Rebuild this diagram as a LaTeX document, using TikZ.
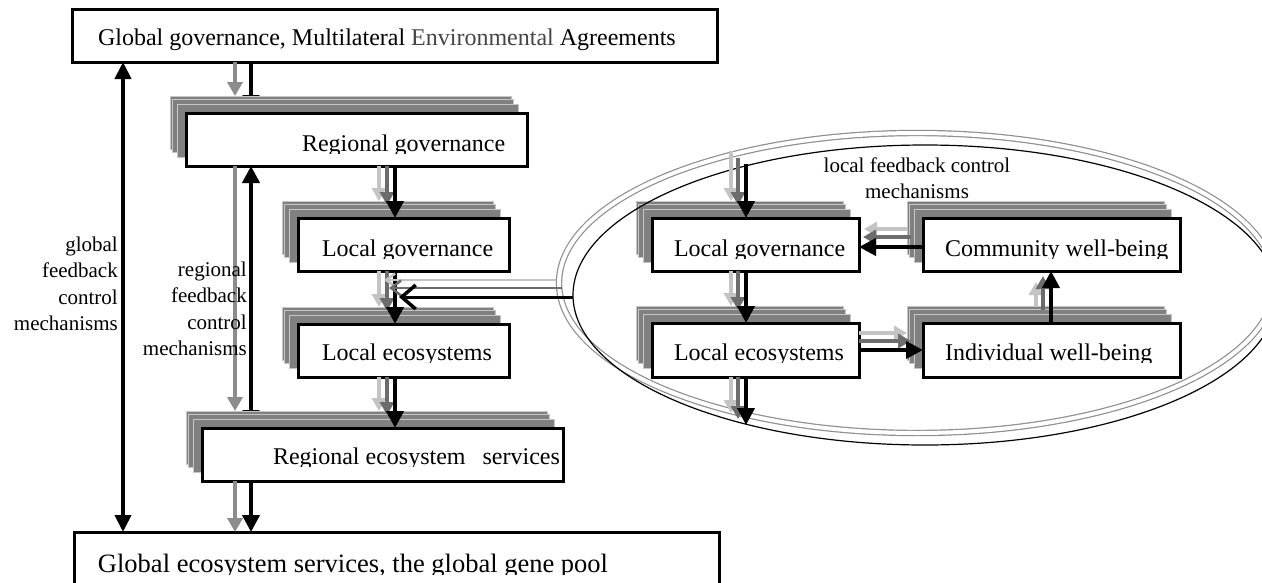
\documentclass[tikz,border=0pt]{standalone}
\usepackage{fontspec}
\setmainfont{Liberation Serif}
\usetikzlibrary{arrows.meta,calc,shapes.geometric}
\pgfdeclarelayer{back}
\pgfdeclarelayer{shad}
\pgfsetlayers{back,shad,main}
\definecolor{lgc}{HTML}{C4C4C4}
\definecolor{mgc}{HTML}{6C6C6C}
\definecolor{rgc}{HTML}{8C8C8C}
\definecolor{shfill}{HTML}{808080}
\definecolor{shedge}{HTML}{C6C6C6}
\definecolor{ellg}{HTML}{8E8E8E}
\definecolor{txtg}{HTML}{454545}
\newcommand{\boxfont}{\fontsize{24}{28}\selectfont}
\newcommand{\botfont}{\fontsize{26.5}{30}\selectfont}
\newcommand{\lblfont}{\fontsize{21}{26.5}\selectfont}
\newcommand{\shadowstack}[1]{%
  \begin{pgfonlayer}{shad}
    \foreach \dx/\dy in {16/17,14/14,9/9}{
      \draw[shadowlayer] ($(#1.north west)+(-\dx,-\dy)$) rectangle ($(#1.south east)+(-\dx,-\dy)$);
    }
  \end{pgfonlayer}
  \coordinate (#1-s) at ($(#1.north west)+(-16,-17)$);
  \coordinate (#1-m) at ($(#1.north west)+(-12,-13)$);
}
\newcommand{\clipdesc}[1]{%
  \fill[white] ($(#1.base -| #1.west)+(3,2.5)$) rectangle ($(#1.south east)+(-3,-3)$);
}
\begin{document}
\begin{tikzpicture}[x=1pt,y=-1pt,
  mainbox/.style={draw=black, line width=3pt, fill=white, inner sep=0pt, outer sep=0pt, anchor=north west, font=\boxfont},
  shadowlayer/.style={draw=shedge, line width=0.8pt, fill=shfill},
  blkar/.style={draw=black, line width=4pt, -{Triangle[length=17pt,width=17pt]}},
  blkhid/.style={draw=black, line width=4pt, -{Triangle[length=18pt,width=16pt]}},
  rgar/.style={draw=rgc, line width=3.5pt, -{Triangle[length=14pt,width=15pt]}},
  lgar/.style={draw=lgc, line width=3.5pt, -{Triangle[length=13pt,width=14pt]}},
  mgar/.style={draw=mgc, line width=3.5pt, -{Triangle[length=13pt,width=14pt]}},
  bkfeed/.style={draw=black, line width=3pt, -{Straight Barb[length=14pt,width=24pt,line width=3.5pt]}},
  mgfeed/.style={draw=mgc, line width=2.5pt, -{Straight Barb[length=10pt,width=15pt,line width=2.5pt]}},
  lgfeed/.style={draw=lgc, line width=2.5pt, -{Straight Barb[length=9pt,width=13pt,line width=2.5pt]}},
  lbl/.style={inner sep=0pt, font=\lblfont}
]
\begin{pgfonlayer}{back}
  \fill[white] (0,0) rectangle (1262,582);
\end{pgfonlayer}
\useasboundingbox (0,0) rectangle (1262,582);

% ellipses of the local cluster
\node[draw=ellg, double=white, double distance=4pt, line width=1.2pt, ellipse,
      minimum width=716pt, minimum height=300pt, inner sep=0pt, outer sep=0pt] (gell) at (917,283) {};
\node[draw=black, line width=1.2pt, ellipse,
      minimum width=704pt, minimum height=300pt, inner sep=0pt, outer sep=0pt] (ell) at (925,295) {};

% boxes
\node[mainbox, text height=36pt, text depth=17pt] (top) at (72,9)
  {\makebox[645pt][l]{\hspace*{26pt}Global governance, Multilateral {\color{txtg}Environmental} Agreements}};
\node[mainbox, text height=38pt, text depth=15pt] (rgov) at (186,113)
  {\makebox[341pt][l]{\hspace*{116pt}Regional governance}};
\node[mainbox, text height=38pt, text depth=15pt] (lgL) at (298,218)
  {\makebox[211pt][l]{\hspace*{24pt}Local governance}};
\node[mainbox, text height=36pt, text depth=17pt] (leL) at (298,324)
  {\makebox[211pt][l]{\hspace*{24pt}Local ecosystems}};
\node[mainbox, text height=36pt, text depth=17pt] (rges) at (202,428)
  {\makebox[361pt][l]{\hspace*{71pt}Regional ecosystem\hspace{11pt} services}};
\node[mainbox, text height=40pt, text depth=48pt, font=\botfont] (bot) at (74,532)
  {\makebox[645pt][l]{\hspace*{24pt}Global ecosystem services, the global gene pool}};
\node[mainbox, text height=38pt, text depth=15pt] (lgR) at (652,218)
  {\makebox[207pt][l]{\hspace*{22pt}Local governance}};
\node[mainbox, text height=38pt, text depth=15pt] (cw) at (923,218)
  {\makebox[257pt][l]{\hspace*{22pt}Community well-being}};
\node[mainbox, text height=37pt, text depth=17pt] (leR) at (652,323)
  {\makebox[207pt][l]{\hspace*{22pt}Local ecosystems}};
\node[mainbox, text height=37pt, text depth=17pt] (iw) at (923,323)
  {\makebox[257pt][l]{\hspace*{22pt}Individual well-being}};

% shadows
\shadowstack{rgov}
\shadowstack{lgL}
\shadowstack{leL}
\shadowstack{rges}
\shadowstack{lgR}
\shadowstack{cw}
\shadowstack{leR}
\shadowstack{iw}

% clipped descenders
\clipdesc{rgov}
\clipdesc{lgL}
\clipdesc{leL}
\clipdesc{rges}
\clipdesc{bot}
\clipdesc{lgR}
\clipdesc{cw}
\clipdesc{leR}
\clipdesc{iw}

% column coordinates
\coordinate (xg) at (123,0);
\coordinate (xrg) at (235,0);
\coordinate (xrb) at (251,0);
\coordinate (xl1) at (379,0);
\coordinate (xl2) at (387,0);
\coordinate (xl3) at (395,0);
\coordinate (xcl) at (384,0);
\coordinate (xcm) at (389,0);
\coordinate (xcb) at (399,0);
\coordinate (yh1) at (0,280);
\coordinate (yh2) at (0,288);
\coordinate (yh3) at (0,297);
\coordinate (geo) at ($(gell.west)+(-2.6,0)$);
\coordinate (gei) at ($(gell.west)+(2.6,0)$);
\coordinate (xr1) at (731,0);
\coordinate (xr2) at (738,0);
\coordinate (xr3) at (746,0);
\coordinate (xu1) at (1036,0);
\coordinate (xu2) at (1043,0);
\coordinate (xu3) at (1051,0);
\coordinate (yb1) at (0,333);
\coordinate (yb2) at (0,341);
\coordinate (yb3) at (0,350);
\coordinate (yt1) at (0,229);
\coordinate (yt2) at (0,237);
\coordinate (yt3) at (0,247);
\coordinate (r1top) at (731,151);
\coordinate (r2top) at (738,158);
\coordinate (r3top) at (746,164);
\coordinate (r1bot) at (731,413);
\coordinate (r2bot) at (738,419);
\coordinate (r3bot) at (746,425);
\coordinate (u1end) at (1036,282);
\coordinate (u2end) at (1043,276);
\coordinate (t1end) at (864,229);
\coordinate (t2end) at (863,237);

% global feedback
\draw[draw=black, line width=4pt, {Triangle[length=17pt,width=16pt]}-{Triangle[length=17pt,width=16pt]}]
  (xg |- top.south) -- (xg |- bot.north);

% regional level
\draw[rgar] (xrg |- top.south) -- (xrg |- rgov-s);
\begin{pgfonlayer}{back}
  \draw[blkhid] (xrb |- top.south) -- (xrb |- rgov.north);
  \draw[draw=black, line width=4pt, {Triangle[length=18pt,width=16pt]}-{Triangle[length=17pt,width=17pt]}]
    (xrb |- rges.north) -- (xrb |- rgov.south);
\end{pgfonlayer}
\draw[rgar] (xrg |- rgov.south) -- (xrg |- rges-s);
\draw[rgar] (xrg |- rges.south) -- (xrg |- bot.north);
\draw[blkar] (xrb |- rges.south) -- (xrb |- bot.north);

% left local column
\draw[lgar] (xl1 |- rgov.south) -- (xl1 |- lgL-s);
\draw[mgar] (xl2 |- rgov.south) -- (xl2 |- lgL-m);
\draw[blkar] (xl3 |- rgov.south) -- (xl3 |- lgL.north);
\draw[lgar] (xl1 |- lgL.south) -- (xl1 |- leL-s);
\draw[mgar] (xl2 |- lgL.south) -- (xl2 |- leL-m);
\draw[blkar] (xl3 |- lgL.south) -- (xl3 |- leL.north);
\draw[lgar] (xl1 |- leL.south) -- (xl1 |- rges-s);
\draw[mgar] (xl2 |- leL.south) -- (xl2 |- rges-m);
\draw[blkar] (xl3 |- leL.south) -- (xl3 |- rges.north);

% feed from the local cluster
\draw[lgfeed] (yh1 -| geo) -- (yh1 -| xcl);
\draw[mgfeed] (yh2 -| gei) -- (yh2 -| xcm);
\draw[bkfeed] (yh3 -| ell.west) -- (yh3 -| xcb);

% right cluster
\draw[lgar] (r1top) -- (xr1 |- lgR-s);
\draw[mgar] (r2top) -- (xr2 |- lgR-m);
\draw[blkar] (r3top) -- (xr3 |- lgR.north);
\draw[lgar] (xr1 |- lgR.south) -- (xr1 |- leR-s);
\draw[mgar] (xr2 |- lgR.south) -- (xr2 |- leR-m);
\draw[blkar] (xr3 |- lgR.south) -- (xr3 |- leR.north);
\draw[lgar] (xr1 |- leR.south) -- (r1bot);
\draw[mgar] (xr2 |- leR.south) -- (r2bot);
\draw[blkar] (xr3 |- leR.south) -- (r3bot);
\draw[lgar] (yb1 -| leR.east) -- (yb1 -| iw-s);
\draw[mgar] (yb2 -| leR.east) -- (yb2 -| iw-m);
\draw[blkar] (yb3 -| leR.east) -- (yb3 -| iw.west);
\draw[lgar] (xu1 |- iw-s) -- (u1end);
\draw[mgar] (xu2 |- iw-m) -- (u2end);
\draw[blkar] (xu3 |- iw.north) -- (xu3 |- cw.south);
\draw[lgar] (yt1 -| cw-s) -- (t1end);
\draw[mgar] (yt2 -| cw-m) -- (t2end);
\draw[blkar] (yt3 -| cw.west) -- (yt3 -| lgR.east);

% labels
\node[lbl, align=right, anchor=north east] (glbl) at (118,236.5) {global\\feedback\\control\\mechanisms};
\node[lbl, align=right, anchor=north east] (rlbl) at (247,261.5) {regional\\feedback\\control\\mechanisms};
\node[lbl, align=center, anchor=north] (llbl) at (917,157.5) {local feedback control\\mechanisms};
\end{tikzpicture}
\end{document}
